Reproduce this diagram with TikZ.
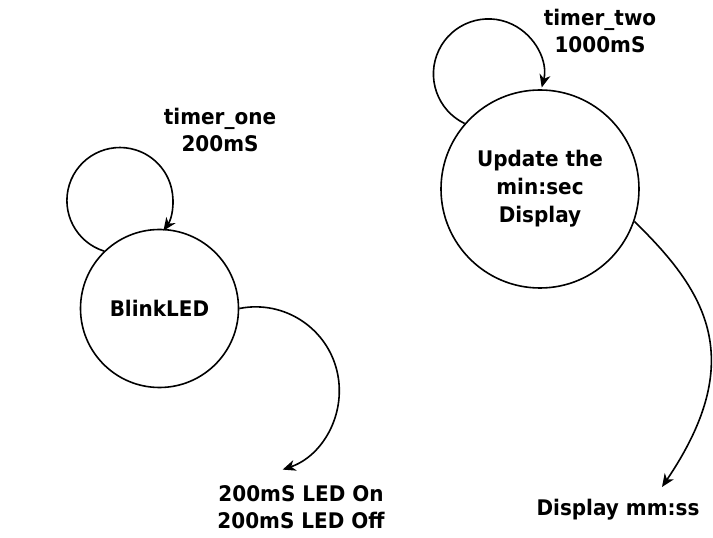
\documentclass[tikz,border=0pt]{standalone}
\usepackage{fontspec}
\newfontfamily\lab{DejaVu Sans}[FakeStretch=0.93]
\usetikzlibrary{arrows.meta}
\begin{document}
\begin{tikzpicture}[x=1pt,y=1pt,
  txt/.style={font=\lab\bfseries\fontsize{21.5}{27}\selectfont,align=center,inner sep=0pt,text=black},
  state/.style={circle,draw,line width=1.6pt,inner sep=0pt,txt},
  conn/.style={line width=1.6pt,-{Stealth[length=13pt,width=11pt,inset=4pt]}}]
\useasboundingbox (0,0) rectangle (713,538);
\node[state,minimum size=158pt] (blink) at (159.5,229.5) {BlinkLED};
\node[state,minimum size=198pt,font=\lab\bfseries\fontsize{21.5}{28}\selectfont] (upd) at (540,349) {Update the\\min:sec\\Display};
\node[txt] (t1) at (220,408) {timer\_one\\200mS};
\node[txt] (t2) at (600,507) {timer\_two\\1000mS};
\node[txt] (o1) at (301,31) {200mS LED On\\200mS LED Off};
\node[txt] (o2) at (618,28) {Display mm:ss};
% self loops
\draw[conn] (blink.134) arc[start angle=252.6,end angle=-34.8,radius=53];
\draw[conn] (upd.139.4) arc[start angle=244.4,end angle=-14.3,radius=55];
% outputs
\coordinate (e2) at (662,51);
\draw[conn] (blink.east) arc[start angle=101.3,end angle=-71.2,radius=83.6];
\draw[conn] (upd.-19.2) .. controls (707,246) and (748,178) .. (e2);
\end{tikzpicture}
\end{document}
